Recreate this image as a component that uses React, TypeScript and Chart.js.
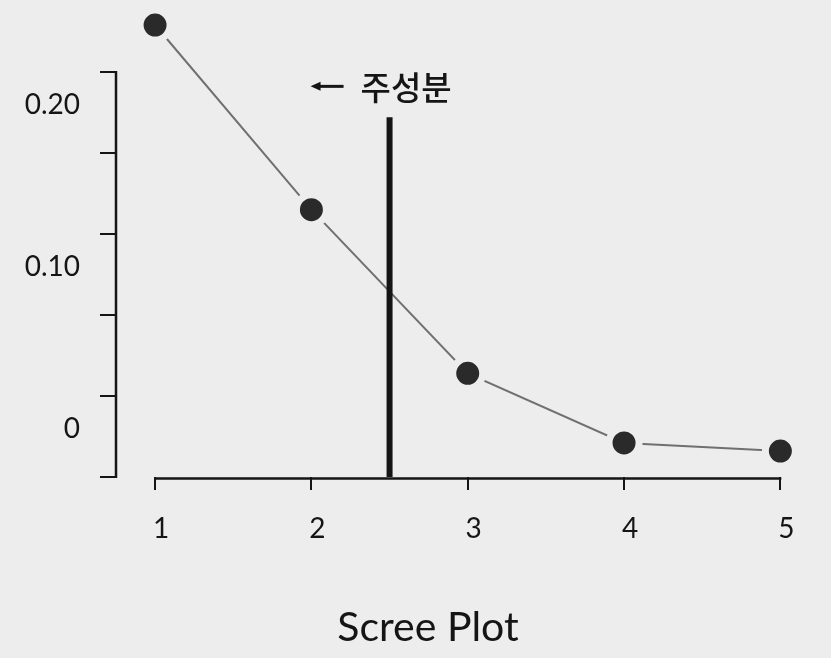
import React, { useEffect, useRef } from 'react';
import { Chart, registerables } from 'chart.js';

Chart.register(...registerables);

// ---- data ----
const COMPONENTS = [1, 2, 3, 4, 5];
const VARIANCE = [0.279, 0.165, 0.064, 0.021, 0.016];
const X_TICKS = [1, 2, 3, 4, 5];
const Y_TICKS = [0, 0.05, 0.1, 0.15, 0.2, 0.25];
const Y_LABELS = ['0', '', '0.10', '', '0.20', ''];
const Y_AXIS_TOP = 0.25;
const CUTOFF_X = [2.5, 2.5];
const CUTOFF_Y = [0, 0.222];
const CUTOFF_LABEL = '주성분';
const TITLE = 'Scree Plot';

const BG = '#ededed';
const INK = '#151515';

const decor = {
  id: 'decor',
  beforeDraw(chart: any) {
    const { ctx, width, height } = chart;
    ctx.save();
    ctx.fillStyle = BG;
    ctx.fillRect(0, 0, width, height);
    ctx.restore();
  },
  afterDraw(chart: any) {
    const { ctx, chartArea } = chart;
    const x = chart.scales.x;
    const y = chart.scales.y;
    ctx.save();
    ctx.strokeStyle = INK;
    ctx.fillStyle = INK;
    // y axis line (0 .. Y_AXIS_TOP)
    ctx.lineWidth = 2.5;
    const xl = chartArea.left;
    ctx.beginPath();
    ctx.moveTo(xl, y.getPixelForValue(0) + 1);
    ctx.lineTo(xl, y.getPixelForValue(Y_AXIS_TOP) - 1);
    ctx.stroke();
    // x axis line (spans first to last category only)
    const yb = chartArea.bottom + 1.5;
    ctx.beginPath();
    ctx.moveTo(x.getPixelForValue(X_TICKS[0]) - 1, yb);
    ctx.lineTo(x.getPixelForValue(X_TICKS[X_TICKS.length - 1]) + 1, yb);
    ctx.stroke();
    // arrow + label near cutoff line
    const px = x.getPixelForValue(CUTOFF_X[1]);
    const py = y.getPixelForValue(CUTOFF_Y[1]);
    const ty = py - 31;
    ctx.lineWidth = 3;
    ctx.beginPath();
    ctx.moveTo(px - 72, ty);
    ctx.lineTo(px - 46, ty);
    ctx.stroke();
    ctx.beginPath();
    ctx.moveTo(px - 79, ty);
    ctx.lineTo(px - 69, ty - 4.5);
    ctx.lineTo(px - 69, ty + 4.5);
    ctx.closePath();
    ctx.fill();
    ctx.font = '500 33px "Noto Sans CJK KR"';
    ctx.textBaseline = 'middle';
    ctx.textAlign = 'left';
    ctx.fillText(CUTOFF_LABEL, px - 29, ty + 1);
    // title
    ctx.font = '41px Lato';
    ctx.textAlign = 'center';
    ctx.fillText(TITLE, 428, 628);
    ctx.restore();
  },
};

export default function App() {
  const ref = useRef<HTMLCanvasElement | null>(null);

  useEffect(() => {
    let chart: Chart | null = null;
    let cancelled = false;
    const fonts = (document as any).fonts;
    const ready = fonts
      ? Promise.all([
          fonts.load('28px Lato'),
          fonts.load('41px Lato'),
          fonts.load('500 33px "Noto Sans CJK KR"', CUTOFF_LABEL),
        ]).catch(() => null)
      : Promise.resolve(null);

    ready.then(() => {
      if (cancelled || !ref.current) return;
      chart = new Chart(ref.current, {
        type: 'line',
        data: {
          datasets: [
            {
              label: 'cutoff',
              data: CUTOFF_X.map((v, i) => ({ x: v, y: CUTOFF_Y[i] })),
              borderColor: INK,
              borderWidth: 6,
              pointRadius: 0,
              borderCapStyle: 'butt',
            },
            {
              label: 'scree',
              data: COMPONENTS.map((c, i) => ({ x: c, y: VARIANCE[i] })),
              borderColor: '#707070',
              borderWidth: 2,
              pointRadius: 15,
              pointBorderWidth: 7,
              pointBackgroundColor: '#2a2a2a',
              pointBorderColor: BG,
              clip: false as any,
            },
          ],
        },
        options: {
          animation: false,
          responsive: false,
          events: [],
          layout: { padding: { top: 23.4, right: 35, bottom: 54, left: 0 } },
          plugins: { legend: { display: false }, tooltip: { enabled: false }, title: { display: false } },
          scales: {
            x: {
              type: 'linear',
              min: 0.75,
              max: 5.1,
              afterBuildTicks: (s: any) => {
                s.ticks = X_TICKS.map((v) => ({ value: v }));
              },
              afterFit: (s: any) => {
                s.height = 127;
                s.paddingLeft = 0;
                s.paddingRight = 0;
              },
              border: { display: false },
              grid: { drawOnChartArea: false, drawTicks: true, tickLength: 13, color: INK, lineWidth: 2 },
              ticks: {
                font: { family: 'Lato', size: 28 },
                color: INK,
                padding: 22,
                labelOffset: 6,
                maxRotation: 0,
                autoSkip: false,
                callback: (v: any) => String(v),
              },
            },
            y: {
              type: 'linear',
              min: 0,
              max: 0.28,
              afterBuildTicks: (s: any) => {
                s.ticks = Y_TICKS.map((v) => ({ value: v }));
              },
              afterFit: (s: any) => {
                s.width = 116;
                s.paddingTop = 0;
                s.paddingBottom = 0;
              },
              border: { display: false },
              grid: { drawOnChartArea: false, drawTicks: true, tickLength: 16, color: INK, lineWidth: 2 },
              ticks: {
                font: { family: 'Lato', size: 28 },
                color: INK,
                padding: 20,
                labelOffset: -48,
                autoSkip: false,
                callback: (_v: any, i: number) => Y_LABELS[i],
              },
            },
          },
        },
        plugins: [decor],
      } as any);
    });

    return () => {
      cancelled = true;
      if (chart) chart.destroy();
    };
  }, []);

  return (
    <div style={{ position: 'fixed', left: 0, top: 0, width: 831, height: 658, background: BG }}>
      <canvas ref={ref} width={831} height={658} style={{ display: 'block', width: 831, height: 658 }} />
    </div>
  );
}
